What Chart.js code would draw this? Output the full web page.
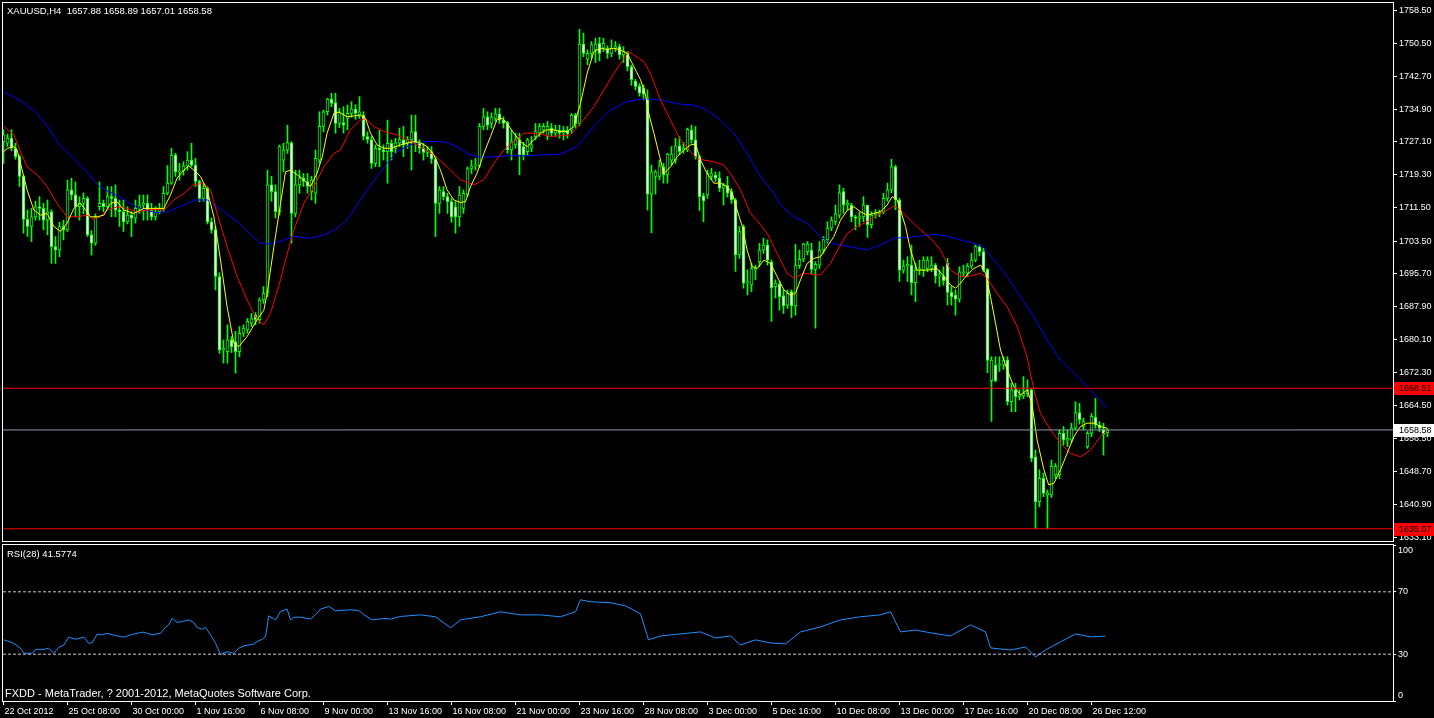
<!DOCTYPE html>
<html>
<head>
<meta charset="utf-8">
<script src="https://cdn.jsdelivr.net/npm/chart.js@4.4.0/dist/chart.umd.min.js"></script>
<style>
  body { margin: 0; background: #000; width: 1434px; height: 718px; overflow: hidden; position: relative; font-family: "Liberation Sans", Arial, sans-serif; }
  .box { position: absolute; left: 0; width: 1434px; }
  .box canvas { display: block; }
  #mainBox { top: 0; height: 543px; }
  #rsiBox { top: 543px; height: 175px; }
  .lbl { position: absolute; color: #fff; line-height: 12px; white-space: pre; }
</style>
</head>
<body>
<div id="mainBox" class="box"><canvas id="mainChart" width="1434" height="543"></canvas></div>
<div id="rsiBox" class="box"><canvas id="rsiChart" width="1434" height="175"></canvas></div>
<div class="lbl" style="left:7px; top:5px; font-size:9.5px;">XAUUSD,H4  1657.88 1658.89 1657.01 1658.58</div>
<div class="lbl" style="left:7px; top:548px; font-size:9.5px;">RSI(28) 41.5774</div>
<div class="lbl" style="left:5px; top:687px; font-size:11px;">FXDD - MetaTrader, ? 2001-2012, MetaQuotes Software Corp.</div>
<script>
// H4 candles, one per bar, oldest first (bar index = position in array)
const opens = [
  1727.2,1726.8,1728.0,1725.6,1723.6,1718.9,1708.7,1707.0,1709.3,1711.7,
  1711.3,1708.5,1710.5,1702.2,1701.4,1707.0,1706.2,1715.7,1714.5,1711.7,
  1712.5,1713.7,1705.0,1703.0,1711.7,1712.5,1711.7,1714.1,1713.7,1710.9,
  1710.5,1708.1,1709.7,1709.0,1711.3,1712.1,1712.5,1710.9,1709.3,1710.5,
  1711.3,1714.9,1717.3,1724.0,1720.0,1720.2,1721.4,1722.8,1721.6,1717.7,
  1713.7,1716.1,1708.1,1706.2,1695.1,1677.6,1677.2,1680.0,1679.6,1677.2,
  1681.6,1682.4,1684.0,1686.0,1684.8,1689.5,1691.1,1716.9,1715.3,1710.5,
  1722.8,1725.2,1726.9,1710.1,1716.9,1718.5,1717.7,1715.3,1714.9,1722.8,
  1730.8,1734.3,1737.3,1736.5,1731.5,1731.7,1732.7,1733.9,1734.9,1733.5,
  1733.5,1728.4,1727.7,1722.0,1725.6,1725.2,1724.8,1726.8,1725.6,1726.8,
  1727.6,1726.9,1727.6,1729.6,1726.8,1725.6,1724.6,1724.8,1723.0,1712.5,
  1715.3,1714.1,1712.9,1711.7,1709.3,1711.3,1714.5,1720.8,1721.4,1721.4,
  1730.8,1733.1,1731.5,1732.7,1733.8,1732.3,1731.7,1725.2,1726.4,1727.6,
  1726.0,1724.8,1725.6,1728.4,1729.2,1729.9,1728.4,1730.4,1729.2,1729.9,
  1729.2,1729.9,1729.9,1733.5,1731.5,1750.4,1746.8,1748.2,1749.0,1750.6,
  1749.4,1749.4,1748.2,1749.4,1749.8,1747.8,1748.2,1745.0,1741.6,1740.4,
  1739.9,1737.6,1714.7,1718.9,1718.9,1721.2,1719.3,1722.8,1722.8,1726.2,
  1725.2,1725.2,1730.0,1727.6,1723.6,1714.3,1714.5,1718.9,1719.2,1718.5,
  1716.1,1716.7,1715.3,1713.3,1700.2,1707.0,1693.5,1693.1,1696.8,1698.6,
  1701.4,1702.6,1698.6,1692.7,1693.3,1690.5,1688.3,1691.5,1688.1,1697.7,
  1699.2,1701.0,1701.4,1696.8,1697.8,1701.4,1703.8,1706.6,1708.1,1709.7,
  1715.3,1712.1,1712.1,1709.3,1708.9,1709.3,1712.1,1707.4,1709.7,1710.1,
  1710.5,1713.7,1715.7,1721.2,1713.3,1696.6,1697.6,1697.8,1693.6,1696.6,
  1696.6,1697.0,1697.0,1697.8,1695.2,1695.2,1698.2,1691.3,1690.7,1689.7,
  1695.9,1695.9,1697.6,1699.0,1702.2,1701.0,1696.8,1670.3,1674.0,1674.0,
  1674.0,1675.2,1665.3,1668.1,1666.5,1666.7,1667.3,1668.1,1652.2,1641.5,
  1647.1,1643.1,1643.1,1647.9,1647.9,1657.8,1656.2,1656.2,1659.0,1662.7,
  1659.4,1654.6,1657.8,1661.6,1659.8,1658.7,1657.88
];
const highs = [
  1730.0,1729.0,1730.0,1726.8,1724.0,1719.2,1710.9,1711.3,1713.0,1714.1,
  1712.5,1713.3,1711.0,1704.6,1708.0,1708.5,1718.0,1718.5,1717.6,1714.1,
  1715.0,1714.1,1706.0,1710.0,1717.6,1713.3,1716.5,1716.5,1716.9,1713.3,
  1713.3,1711.7,1710.5,1713.3,1714.5,1714.5,1714.5,1712.5,1711.7,1712.5,
  1716.5,1721.5,1725.6,1724.4,1722.0,1722.4,1724.8,1726.8,1723.2,1718.0,
  1717.0,1716.5,1709.0,1707.0,1696.0,1680.0,1683.6,1680.8,1682.0,1683.2,
  1683.6,1685.1,1686.3,1686.5,1690.0,1692.7,1720.4,1718.9,1716.9,1726.4,
  1726.8,1731.1,1727.2,1720.4,1720.4,1719.6,1719.6,1718.9,1725.2,1734.3,
  1734.7,1737.5,1738.7,1738.7,1735.1,1735.5,1735.9,1736.7,1736.0,1737.9,
  1734.3,1729.5,1728.4,1726.4,1729.9,1726.4,1732.3,1727.6,1728.0,1730.4,
  1730.8,1728.4,1733.5,1733.5,1727.6,1726.8,1726.0,1726.0,1723.6,1716.5,
  1716.5,1714.9,1713.7,1712.9,1716.5,1715.7,1721.2,1722.8,1723.2,1731.5,
  1735.1,1734.3,1734.0,1735.1,1735.1,1733.1,1732.0,1729.9,1729.2,1729.2,
  1727.0,1728.0,1728.4,1731.5,1731.5,1731.5,1732.0,1731.5,1731.1,1731.1,
  1730.8,1730.8,1733.9,1733.9,1753.9,1753.0,1749.0,1751.0,1751.8,1752.0,
  1751.8,1750.0,1751.4,1751.0,1750.4,1749.8,1748.6,1745.4,1742.0,1741.0,
  1740.7,1739.5,1721.6,1720.4,1722.8,1722.0,1724.4,1726.0,1728.0,1728.4,
  1727.0,1730.4,1731.1,1730.8,1724.0,1714.9,1720.4,1720.8,1720.0,1720.0,
  1717.3,1718.9,1716.0,1713.7,1707.0,1707.4,1696.7,1698.2,1697.8,1703.0,
  1704.2,1703.8,1699.0,1694.3,1693.9,1691.9,1691.9,1691.9,1702.7,1701.4,
  1703.0,1703.4,1703.0,1698.6,1703.4,1704.6,1708.1,1709.3,1712.1,1716.9,
  1716.1,1713.3,1712.5,1709.7,1710.5,1714.1,1712.1,1710.5,1711.0,1710.9,
  1714.9,1717.3,1723.0,1721.6,1713.7,1699.0,1699.8,1702.6,1698.2,1699.0,
  1699.8,1699.8,1699.8,1698.2,1696.6,1697.4,1699.4,1692.7,1691.9,1697.4,
  1697.8,1698.2,1700.6,1702.6,1702.6,1701.8,1697.0,1676.0,1676.0,1676.0,
  1676.0,1676.0,1669.7,1669.7,1668.1,1671.3,1670.5,1668.5,1653.8,1649.1,
  1648.3,1644.3,1651.4,1650.6,1658.6,1659.4,1658.6,1660.2,1665.3,1664.9,
  1661.4,1658.2,1662.5,1666.1,1660.6,1660.2,1658.89
];
const lows = [
  1722.0,1726.0,1725.0,1723.0,1716.5,1705.4,1704.6,1703.4,1708.5,1708.5,
  1706.2,1705.0,1698.2,1698.2,1699.8,1703.8,1705.8,1713.3,1709.3,1708.5,
  1710.0,1704.6,1700.2,1702.5,1710.9,1710.5,1711.3,1709.3,1709.3,1707.0,
  1705.8,1707.6,1704.6,1707.8,1710.1,1708.5,1708.5,1708.5,1708.5,1710.0,
  1710.5,1714.5,1717.0,1718.9,1718.0,1719.2,1720.4,1721.2,1716.5,1712.9,
  1713.0,1707.6,1705.4,1691.9,1676.8,1674.5,1674.5,1677.0,1672.1,1676.0,
  1680.8,1681.6,1683.2,1683.6,1684.0,1688.7,1690.3,1713.0,1709.0,1709.7,
  1720.0,1724.4,1703.0,1709.3,1714.9,1716.5,1714.9,1713.3,1712.5,1722.0,
  1729.5,1733.5,1735.5,1729.2,1730.5,1729.2,1730.0,1733.0,1732.5,1732.7,
  1727.6,1726.8,1720.8,1721.2,1721.2,1722.8,1717.3,1722.8,1724.4,1726.0,
  1723.6,1725.6,1720.4,1724.8,1724.4,1722.8,1723.6,1722.0,1704.6,1710.1,
  1713.3,1710.1,1708.0,1705.4,1707.0,1710.1,1714.1,1719.6,1720.4,1721.0,
  1730.0,1730.0,1730.4,1732.0,1731.5,1730.4,1724.4,1722.8,1725.6,1719.3,
  1722.8,1724.0,1724.8,1727.6,1728.4,1729.2,1727.6,1728.4,1728.4,1728.0,
  1727.6,1728.0,1729.2,1730.4,1731.0,1747.4,1745.5,1747.0,1746.0,1746.4,
  1748.6,1747.0,1747.4,1748.6,1746.8,1746.0,1744.0,1740.6,1739.5,1738.0,
  1737.1,1710.9,1705.5,1714.7,1718.1,1717.3,1717.3,1721.6,1722.0,1724.0,
  1724.4,1724.8,1726.8,1723.0,1710.8,1708.1,1713.7,1718.1,1717.7,1715.3,
  1712.1,1714.0,1712.5,1696.3,1699.4,1692.3,1690.7,1691.5,1694.3,1697.4,
  1700.6,1697.8,1684.4,1690.0,1687.1,1686.3,1687.5,1685.3,1685.9,1697.0,
  1698.6,1700.2,1695.8,1682.8,1697.0,1700.6,1703.0,1706.0,1707.4,1709.0,
  1710.1,1710.9,1708.1,1706.2,1707.0,1708.1,1704.4,1706.6,1709.0,1709.3,
  1710.0,1713.0,1715.0,1711.0,1693.9,1695.9,1693.9,1690.7,1689.1,1695.5,
  1695.1,1696.2,1696.2,1693.5,1692.7,1693.0,1688.3,1688.3,1685.9,1689.0,
  1695.0,1695.0,1697.0,1698.6,1700.0,1696.2,1672.2,1660.6,1670.0,1672.5,
  1673.0,1664.5,1662.9,1662.9,1665.7,1666.0,1666.5,1651.0,1635.2,1640.3,
  1642.7,1635.07,1642.5,1647.0,1647.0,1655.0,1654.6,1655.6,1658.6,1660.0,
  1658.6,1654.2,1657.0,1659.0,1658.2,1652.6,1657.01
];
const closes = [
  1728.8,1728.0,1725.6,1723.6,1718.9,1708.7,1707.0,1709.3,1711.7,1711.3,
  1708.5,1710.5,1702.2,1701.4,1707.0,1706.2,1715.7,1714.5,1711.7,1712.5,
  1713.7,1705.0,1703.0,1709.3,1712.5,1711.7,1714.1,1713.7,1710.9,1710.5,
  1708.1,1709.7,1709.0,1711.3,1712.1,1712.5,1710.9,1709.3,1710.5,1711.3,
  1714.9,1717.3,1724.0,1720.0,1720.2,1721.4,1722.8,1721.6,1717.7,1713.7,
  1716.1,1708.1,1706.2,1695.1,1677.6,1678.0,1680.0,1678.4,1677.2,1681.6,
  1682.8,1684.4,1685.1,1684.8,1689.5,1691.1,1716.9,1715.3,1710.5,1726.0,
  1725.2,1726.9,1710.1,1716.9,1718.5,1717.7,1716.5,1718.1,1723.2,1730.8,
  1734.3,1737.3,1736.3,1731.5,1734.3,1731.1,1733.9,1734.9,1733.9,1734.3,
  1728.4,1727.7,1722.0,1725.6,1725.2,1724.8,1726.8,1724.8,1726.9,1727.7,
  1726.4,1727.7,1729.6,1726.8,1725.6,1724.6,1725.0,1723.0,1712.5,1715.7,
  1714.1,1712.9,1709.3,1709.3,1714.5,1714.9,1720.8,1721.4,1721.6,1730.8,
  1733.1,1731.1,1733.1,1733.8,1732.3,1731.5,1725.2,1727.2,1727.6,1724.0,
  1724.0,1727.6,1726.4,1729.6,1730.8,1730.8,1730.8,1729.2,1729.9,1729.2,
  1729.9,1729.0,1733.5,1731.5,1750.4,1748.2,1748.2,1750.2,1750.4,1748.2,
  1750.6,1748.2,1749.4,1749.8,1747.8,1748.6,1745.0,1741.9,1740.3,1738.7,
  1738.5,1714.7,1720.0,1720.0,1721.4,1719.3,1724.2,1724.2,1726.2,1724.8,
  1725.6,1730.1,1727.6,1723.6,1714.1,1713.1,1719.6,1719.6,1718.5,1716.1,
  1716.7,1714.9,1713.3,1700.2,1705.8,1693.5,1693.9,1697.0,1697.0,1701.4,
  1702.6,1699.0,1692.4,1693.5,1690.3,1688.1,1691.1,1688.1,1697.7,1699.2,
  1702.8,1702.8,1696.8,1698.0,1701.4,1703.9,1706.6,1708.5,1710.0,1715.0,
  1712.1,1712.5,1709.3,1708.9,1709.3,1712.1,1707.4,1709.7,1710.3,1710.5,
  1713.7,1715.7,1721.2,1713.3,1696.6,1697.6,1698.0,1693.6,1696.6,1697.0,
  1699.0,1699.0,1697.8,1695.2,1695.5,1694.1,1691.3,1690.3,1689.7,1696.2,
  1696.2,1697.6,1699.0,1702.2,1701.0,1696.6,1675.1,1675.2,1670.3,1674.3,
  1675.2,1665.3,1668.1,1666.5,1666.9,1667.3,1668.1,1651.8,1641.5,1647.1,
  1643.5,1643.6,1649.9,1649.9,1657.8,1656.2,1656.6,1659.0,1662.7,1661.0,
  1660.6,1657.8,1661.8,1659.8,1659.0,1657.6,1658.58
];

// moving averages as [bar index, price]
const maYellow = [
  [0,1724.8],[1,1725.6],[2.6,1726.0],[3.4,1725.2],[4.25,1722.0],[5.9,1715.7],[7.6,1710.9],[9.25,1709.7],[10.9,1710.1],[12.6,1707.0],
  [14.25,1705.8],[15.9,1707.8],[17.6,1711.3],[19.25,1712.5],[20.9,1710.5],[21.75,1709.3],[23.4,1709.3],[25.1,1709.7],[26.75,1712.5],[28.4,1712.9],
  [30.1,1710.9],[32.6,1710.1],[35.1,1711.3],[37.6,1711.3],[40.1,1711.3],[41.75,1714.5],[43.4,1718.5],[45.1,1720.4],[46.3,1721.4],[47.6,1720.4],
  [49.25,1718.9],[50.9,1715.7],[52.6,1709.3],[54.25,1699.0],[55.9,1687.9],[57.6,1679.2],[58.8,1678.4],[60.9,1680.8],[63.4,1684.8],[65.1,1687.1],
  [65.9,1691.1],[67.6,1702.2],[69.25,1712.5],[70.5,1720.0],[71.75,1720.4],[73.4,1719.3],[75.1,1718.1],[76.75,1716.5],[78.4,1719.7],[79.7,1723.6],
  [80.9,1729.2],[82.6,1733.9],[83.8,1734.2],[85.9,1733.1],[87.6,1733.3],[89.25,1733.5],[90.5,1732.7],[91.75,1729.2],[93.4,1726.4],[95.1,1725.6],
  [96.75,1725.6],[99.25,1726.4],[100.9,1726.8],[102.6,1727.2],[104.25,1726.9],[105.9,1726.0],[107.6,1724.0],[109.25,1720.4],[110.9,1715.7],[112.6,1713.3],
  [114.25,1712.7],[115.5,1712.9],[116.75,1716.5],[118.4,1719.7],[120.1,1724.4],[121.75,1728.4],[123.4,1732.5],[124.7,1732.7],[125.9,1731.5],[127.6,1729.2],
  [129.25,1727.2],[130.9,1726.0],[132.6,1727.6],[134.25,1729.2],[135.9,1730.0],[137.6,1730.0],[139.25,1729.6],[140.9,1729.6],[142.6,1730.8],[144.25,1736.3],
  [145.9,1743.4],[147.6,1748.6],[149.25,1749.4],[150.9,1749.1],[152.6,1749.4],[154.25,1749.0],[155.9,1748.2],[157.6,1745.0],[159.25,1741.9],[160.5,1738.3],
  [161.3,1733.9],[162.6,1729.2],[164.25,1722.8],[165.1,1719.6],[166.75,1721.2],[168.4,1723.6],[170.1,1725.2],[171.75,1726.4],[173,1726.6],[174.25,1722.8],
  [175.9,1719.6],[177.6,1717.3],[179.25,1717.3],[180.9,1716.5],[182.2,1714.9],[183.4,1710.9],[184.7,1707.0],[185.9,1701.4],[187.2,1697.4],[188.4,1697.0],
  [190.1,1699.0],[191.75,1698.2],[193.4,1695.1],[195.1,1691.9],[196.75,1690.7],[198,1691.1],[199.25,1694.3],[200.9,1698.2],[202.6,1699.4],[204.25,1699.8],
  [205.9,1702.2],[207.6,1704.6],[209.25,1708.5],[211,1710.9],[212.6,1711.7],[214.25,1710.5],[215.9,1709.7],[217.6,1710.1],[219.25,1710.5],[220.9,1712.1],
  [222.2,1714.1],[223.4,1713.3],[224.25,1710.9],[225.5,1707.0],[226.75,1701.4],[228.4,1696.6],[230.9,1696.6],[233.4,1697.0],[235.1,1695.1],[236.75,1693.1],
  [238,1692.3],[239.25,1693.5],[240.9,1695.5],[242.6,1697.0],[244.25,1697.8],[245.5,1695.9],[246.75,1690.3],[248,1684.0],[249.25,1677.6],[250.9,1672.9],
  [252.6,1668.9],[254.25,1666.9],[255.9,1668.1],[257.1,1664.9],[258.4,1656.2],[260.1,1649.1],[261.3,1645.5],[262.6,1645.9],[264.25,1649.1],[265.9,1653.0],
  [267.6,1657.0],[269.25,1659.4],[270.9,1660.2],[272.6,1660.2],[274.25,1659.4],[275.9,1659.0]
];
const maRed = [
  [0,1730.8],[2.6,1728.8],[4.25,1724.8],[5.9,1721.2],[8.4,1719.3],[10.9,1716.5],[13.4,1712.5],[15.9,1709.3],[18.4,1709.3],[20.9,1709.7],
  [22.6,1708.7],[24.25,1709.3],[25.9,1710.9],[28.4,1711.7],[30.9,1711.3],[33.4,1710.5],[35.9,1710.9],[38.4,1711.1],[40.1,1710.9],[42.6,1713.3],
  [45.1,1714.9],[47.6,1716.9],[50.1,1717.3],[51.75,1715.7],[53.4,1710.1],[55.9,1702.2],[58.4,1695.1],[60.9,1689.5],[63.4,1684.8],[65.1,1683.6],
  [66.75,1686.3],[69.25,1694.3],[70.5,1699.0],[72.6,1706.2],[75.1,1712.5],[77.6,1716.5],[80.1,1721.2],[82.6,1724.4],[84.25,1725.2],[86.75,1730.0],
  [89.25,1732.3],[90.5,1732.7],[92.6,1730.8],[95.1,1729.6],[98.4,1728.8],[100.9,1727.6],[104.25,1726.0],[107.6,1724.0],[110.9,1721.2],[114.25,1718.1],
  [117.6,1716.9],[120.1,1718.1],[122.6,1722.0],[125.1,1725.2],[127.6,1727.2],[130.1,1729.2],[132.6,1729.2],[135.1,1728.8],[136.75,1728.4],[139.25,1728.6],
  [141.75,1728.8],[144.25,1731.5],[147.6,1735.5],[150.1,1739.5],[152.6,1743.4],[155.1,1747.0],[156.3,1748.6],[157.6,1747.8],[160.1,1746.2],[161.75,1743.4],
  [164.25,1737.1],[166.75,1732.3],[169.25,1727.6],[171.75,1724.8],[173.4,1723.2],[175.1,1722.8],[177.6,1722.4],[180.1,1721.6],[181.75,1719.6],[184.25,1715.7],
  [186.75,1710.1],[189.25,1707.4],[190.9,1705.4],[193.4,1700.6],[195.9,1695.9],[197.6,1694.7],[200.1,1695.9],[202.6,1695.5],[204.25,1695.5],[206.75,1698.2],
  [209.25,1702.6],[211,1705.4],[213.4,1707.0],[215.9,1708.1],[218.4,1709.7],[220.9,1710.9],[222.6,1711.9],[224.25,1710.9],[226.75,1708.5],[229.25,1706.2],
  [231.75,1704.2],[234.25,1701.4],[236.75,1696.6],[239.25,1695.1],[241.75,1695.2],[244.25,1695.9],[245.9,1694.7],[248.4,1691.1],[250.9,1687.9],[253.4,1683.2],
  [255.9,1676.0],[257.6,1668.1],[259.25,1662.5],[261.75,1658.6],[264.25,1655.4],[266.75,1653.0],[269.25,1652.2],[271.75,1653.8],[274.25,1657.0],[275.9,1658.6]
];
const maBlue = [
  [0,1739.1],[4,1737.1],[8,1734.3],[11,1730.8],[14,1726.4],[18,1722.8],[21,1719.7],[24,1716.5],[28,1714.5],[31,1712.9],
  [34,1711.3],[38,1710.3],[41,1710.5],[44,1711.7],[48,1713.3],[51,1713.3],[54,1711.3],[58,1708.5],[61,1705.8],[64,1703.2],
  [66,1702.8],[69,1703.4],[72.6,1704.6],[76.75,1704.2],[80.1,1705.0],[83.4,1706.6],[85.9,1708.5],[88.4,1712.1],[90.9,1715.7],[93.4,1718.9],
  [95.9,1722.0],[98.4,1724.8],[100.9,1726.0],[102.6,1726.8],[105.9,1727.2],[109.25,1727.2],[110.9,1726.9],[113.4,1726.0],[115.9,1724.4],[118.4,1723.6],
  [120.9,1723.5],[125.9,1723.8],[130.9,1723.8],[134.25,1724.0],[139.25,1724.2],[143.4,1726.0],[147.6,1730.8],[151.75,1734.7],[155.9,1736.7],[159.25,1737.3],
  [161.75,1737.3],[164.25,1737.1],[169.25,1736.1],[172.6,1735.9],[175.9,1734.7],[179.25,1732.3],[182.6,1729.2],[185.9,1724.4],[189.25,1718.9],[192.6,1714.9],
  [194.25,1712.1],[197.6,1709.3],[200.9,1707.8],[204.25,1704.6],[206.75,1703.0],[209.25,1702.6],[212.6,1702.0],[215.9,1701.4],[219.25,1702.6],[222.6,1704.2],
  [225.9,1704.4],[229.25,1704.7],[232.6,1705.1],[235.9,1704.7],[239.25,1703.8],[242.6,1703.0],[245.1,1702.0],[247.6,1699.0],[250.9,1695.1],[254.25,1690.3],
  [257.6,1685.5],[260.9,1680.0],[264.25,1675.2],[267.6,1672.1],[270.9,1668.9],[273.4,1666.5],[275.9,1663.7]
];
// RSI(28) as [bar index, value]
const rsiValues = [
  [0.1,39.2],[2.6,37.0],[4.25,33.8],[5.1,30.6],[7.2,30.6],[8,33.1],[10.1,33.1],[11.3,33.8],[12.6,30.6],[13.8,34.4],
  [15.1,35.9],[16.3,40.9],[18,39.6],[20.1,40.9],[21.3,37.0],[22.2,37.4],[23.4,42.8],[24.7,42.4],[25.9,43.4],[28,41.9],
  [30.1,40.9],[31.75,42.4],[34.25,43.9],[35.1,44.1],[37.2,42.4],[39.25,43.4],[40.5,47.3],[41.3,48.8],[42.2,53.1],[43.4,50.3],
  [44.7,51.0],[46.3,52.0],[47.6,50.3],[48.4,47.1],[49.7,46.0],[50.5,47.3],[51.75,42.4],[53,37.0],[54.25,29.9],[55.9,31.6],
  [57.6,30.6],[58.8,33.8],[60.1,35.3],[62.6,36.6],[63.4,38.1],[64.7,39.6],[65.5,41.3],[65.9,47.7],[66.3,54.6],[68,52.0],
  [69.25,57.4],[70.9,58.9],[71.75,52.0],[72.6,53.7],[74.25,53.7],[76.75,52.5],[78,55.3],[79.25,58.9],[81.3,60.6],[83,57.8],
  [86.75,58.5],[88.8,58.0],[90.1,55.3],[92.2,52.0],[95.1,52.9],[96.75,52.5],[99.25,54.2],[104.25,55.2],[108,54.0],[111.75,46.9],
  [114.25,52.0],[119.25,54.0],[124.25,57.2],[129.25,55.2],[134.25,55.2],[139.25,54.0],[143,57.2],[144.25,64.9],[146.75,63.6],[151.75,63.0],
  [155.5,61.0],[159.25,55.9],[161.25,39.2],[164.25,41.7],[169.25,43.0],[174.25,44.3],[178,40.4],[181.75,41.7],[184.25,35.9],[188,39.2],
  [191.75,37.2],[195.5,36.6],[199.25,44.3],[204.25,47.5],[209.25,52.0],[214.25,54.0],[219.25,55.2],[221.75,57.2],[224.25,44.3],[228,45.5],
  [231.75,43.7],[236.75,41.7],[241.75,48.8],[245.5,44.3],[246.75,34.0],[251.75,32.7],[255.5,34.6],[258,28.2],[260.5,32.7],[264.25,37.9],
  [268,43.0],[271.75,41.1],[275.5,41.6]
];

// horizontal lines and axis ticks
const levelHigh = 1668.51;
const levelLow = 1635.07;
const bidPrice = 1658.58;
const priceTicks = [1758.50,1750.50,1742.70,1734.90,1727.10,1719.30,1711.50,1703.50,1695.70,1687.90,1680.10,1672.30,1664.50,1656.50,1648.70,1640.90,1633.10];
const rsiTicks = [0, 30, 70, 100];
const rsiLevels = [30, 70];
const dateLabels = ["22 Oct 2012","25 Oct 08:00","30 Oct 00:00","1 Nov 16:00","6 Nov 08:00","9 Nov 00:00","13 Nov 16:00","16 Nov 08:00","21 Nov 00:00","23 Nov 16:00","28 Nov 08:00","3 Dec 00:00","5 Dec 16:00","10 Dec 08:00","13 Dec 00:00","17 Dec 16:00","20 Dec 08:00","26 Dec 12:00"];
const dateTickBars = dateLabels.map((d, k) => k * 16); // a label every 16 bars

const X_MIN = -0.125;
const X_MAX = 347.375;
const FONT = { family: "Liberation Sans", size: 9 };

Chart.defaults.font.family = "Liberation Sans";
Chart.defaults.color = "#fff";

// white frame round the plot area, like the terminal draws it
const framePlugin = {
    id: "frame",
    afterDraw(chart) {
        const a = chart.chartArea;
        const c = chart.ctx;
        c.save();
        c.strokeStyle = "#fff";
        c.lineWidth = 1;
        c.strokeRect(a.left - 0.5, a.top - 0.5, a.right - a.left + 1, a.bottom - a.top + 1);
        c.restore();
    }
};

// coloured price boxes on the right scale
const priceBoxPlugin = {
    id: "priceBoxes",
    afterDraw(chart) {
        const y = chart.scales.y;
        const c = chart.ctx;
        const boxes = [[levelHigh, "#ff0000"], [bidPrice, "#ffffff"], [levelLow, "#ff0000"]];
        c.save();
        c.font = "9px 'Liberation Sans'";
        c.textBaseline = "middle";
        boxes.forEach(b => {
            const py = Math.round(y.getPixelForValue(b[0]));
            c.fillStyle = b[1];
            c.fillRect(1394, py - 6, 40, 13);
            c.fillStyle = "#000";
            c.fillText(b[0].toFixed(2), 1399, py + 0.5);
        });
        c.restore();
    }
};

// keep the axis from pushing the plot area in for half a label
function fixVertical(width) {
    return axis => { axis.width = width; axis.paddingTop = 0; axis.paddingBottom = 0; };
}

function flatLine(value, colour, dash) {
    return {
        type: "line",
        data: [{ x: X_MIN, y: value }, { x: X_MAX, y: value }],
        borderColor: colour,
        borderWidth: 1,
        borderDash: dash || [],
        pointRadius: 0,
        order: 0
    };
}

function maLine(points, colour, order) {
    return {
        type: "line",
        data: points.map(p => ({ x: p[0], y: p[1] })),
        borderColor: colour,
        borderWidth: 1,
        pointRadius: 0,
        tension: 0,
        order: order
    };
}

// candles: a thin bar for the wick, a 3px bar for the body
const wickData = closes.map((c, i) => ({ x: i, y: [lows[i], highs[i]] }));
const bodyData = closes.map((c, i) => ({ x: i, y: [Math.min(opens[i], c), Math.max(opens[i], c)] }));
const bodyFill = closes.map((c, i) => (c < opens[i] ? "#ffffff" : "#000000"));

new Chart(document.getElementById("mainChart"), {
    type: "bar",
    data: {
        datasets: [
            flatLine(levelHigh, "#ff0000"),
            flatLine(levelLow, "#ff0000"),
            flatLine(bidPrice, "#8c9bab"),
            maLine(maYellow, "#ffff00", 1),
            maLine(maRed, "#ff0000", 2),
            maLine(maBlue, "#0000ff", 3),
            {
                data: bodyData,
                backgroundColor: bodyFill,
                borderColor: "#00ff00",
                borderWidth: 1,
                borderSkipped: false,
                barThickness: 3,
                minBarLength: 1,
                grouped: false,
                order: 4
            },
            {
                data: wickData,
                backgroundColor: "#00ff00",
                borderWidth: 0,
                barThickness: 1,
                grouped: false,
                order: 5
            }
        ]
    },
    options: {
        responsive: false,
        animation: false,
        devicePixelRatio: 1,
        layout: { padding: { left: 3, top: 3, right: 0, bottom: 2 } },
        plugins: { legend: { display: false }, tooltip: { enabled: false } },
        scales: {
            x: { type: "linear", display: false, min: X_MIN, max: X_MAX, offset: false },
            y: {
                type: "linear",
                position: "right",
                min: 1632.16,
                max: 1760.17,
                afterBuildTicks: axis => { axis.ticks = priceTicks.map(v => ({ value: v })); },
                afterFit: fixVertical(41),
                ticks: { color: "#fff", font: FONT, padding: 2, autoSkip: false, callback: v => v.toFixed(2) },
                grid: { drawOnChartArea: false, color: "#fff", tickLength: 4 },
                border: { display: false }
            }
        }
    },
    plugins: [framePlugin, priceBoxPlugin]
});

new Chart(document.getElementById("rsiChart"), {
    type: "line",
    data: {
        datasets: [
            flatLine(rsiLevels[1], "#c8c8c8", [3, 2]),
            flatLine(rsiLevels[0], "#c8c8c8", [3, 2]),
            {
                data: rsiValues.map(p => ({ x: p[0], y: p[1] })),
                borderColor: "#1e90ff",
                borderWidth: 1,
                pointRadius: 0,
                tension: 0,
                order: 1
            }
        ]
    },
    options: {
        responsive: false,
        animation: false,
        devicePixelRatio: 1,
        layout: { padding: { left: 3, top: 2, right: 0, bottom: 0 } },
        plugins: { legend: { display: false }, tooltip: { enabled: false } },
        scales: {
            x: {
                type: "linear",
                min: X_MIN,
                max: X_MAX,
                afterBuildTicks: axis => { axis.ticks = dateTickBars.map(v => ({ value: v })); },
                afterFit: axis => { axis.height = 17; axis.paddingLeft = 0; axis.paddingRight = 0; },
                ticks: {
                    color: "#fff", font: FONT, autoSkip: false, maxRotation: 0, align: "start", padding: 1, labelOffset: 1,
                    callback: (v, i) => dateLabels[i]
                },
                grid: { drawOnChartArea: false, color: "#fff", tickLength: 4 },
                border: { display: false }
            },
            y: {
                type: "linear",
                position: "right",
                min: 0,
                max: 100,
                afterBuildTicks: axis => { axis.ticks = rsiTicks.map(v => ({ value: v })); },
                afterFit: fixVertical(41),
                ticks: {
                    color: "#fff", font: FONT, padding: 2, autoSkip: false,
                    callback: v => (v === 100 ? ["", "100"] : v === 0 ? ["0", ""] : String(v))
                },
                grid: { drawOnChartArea: false, color: "#fff", tickLength: 3 },
                border: { display: false }
            }
        }
    },
    plugins: [framePlugin]
});
</script>
</body>
</html>
